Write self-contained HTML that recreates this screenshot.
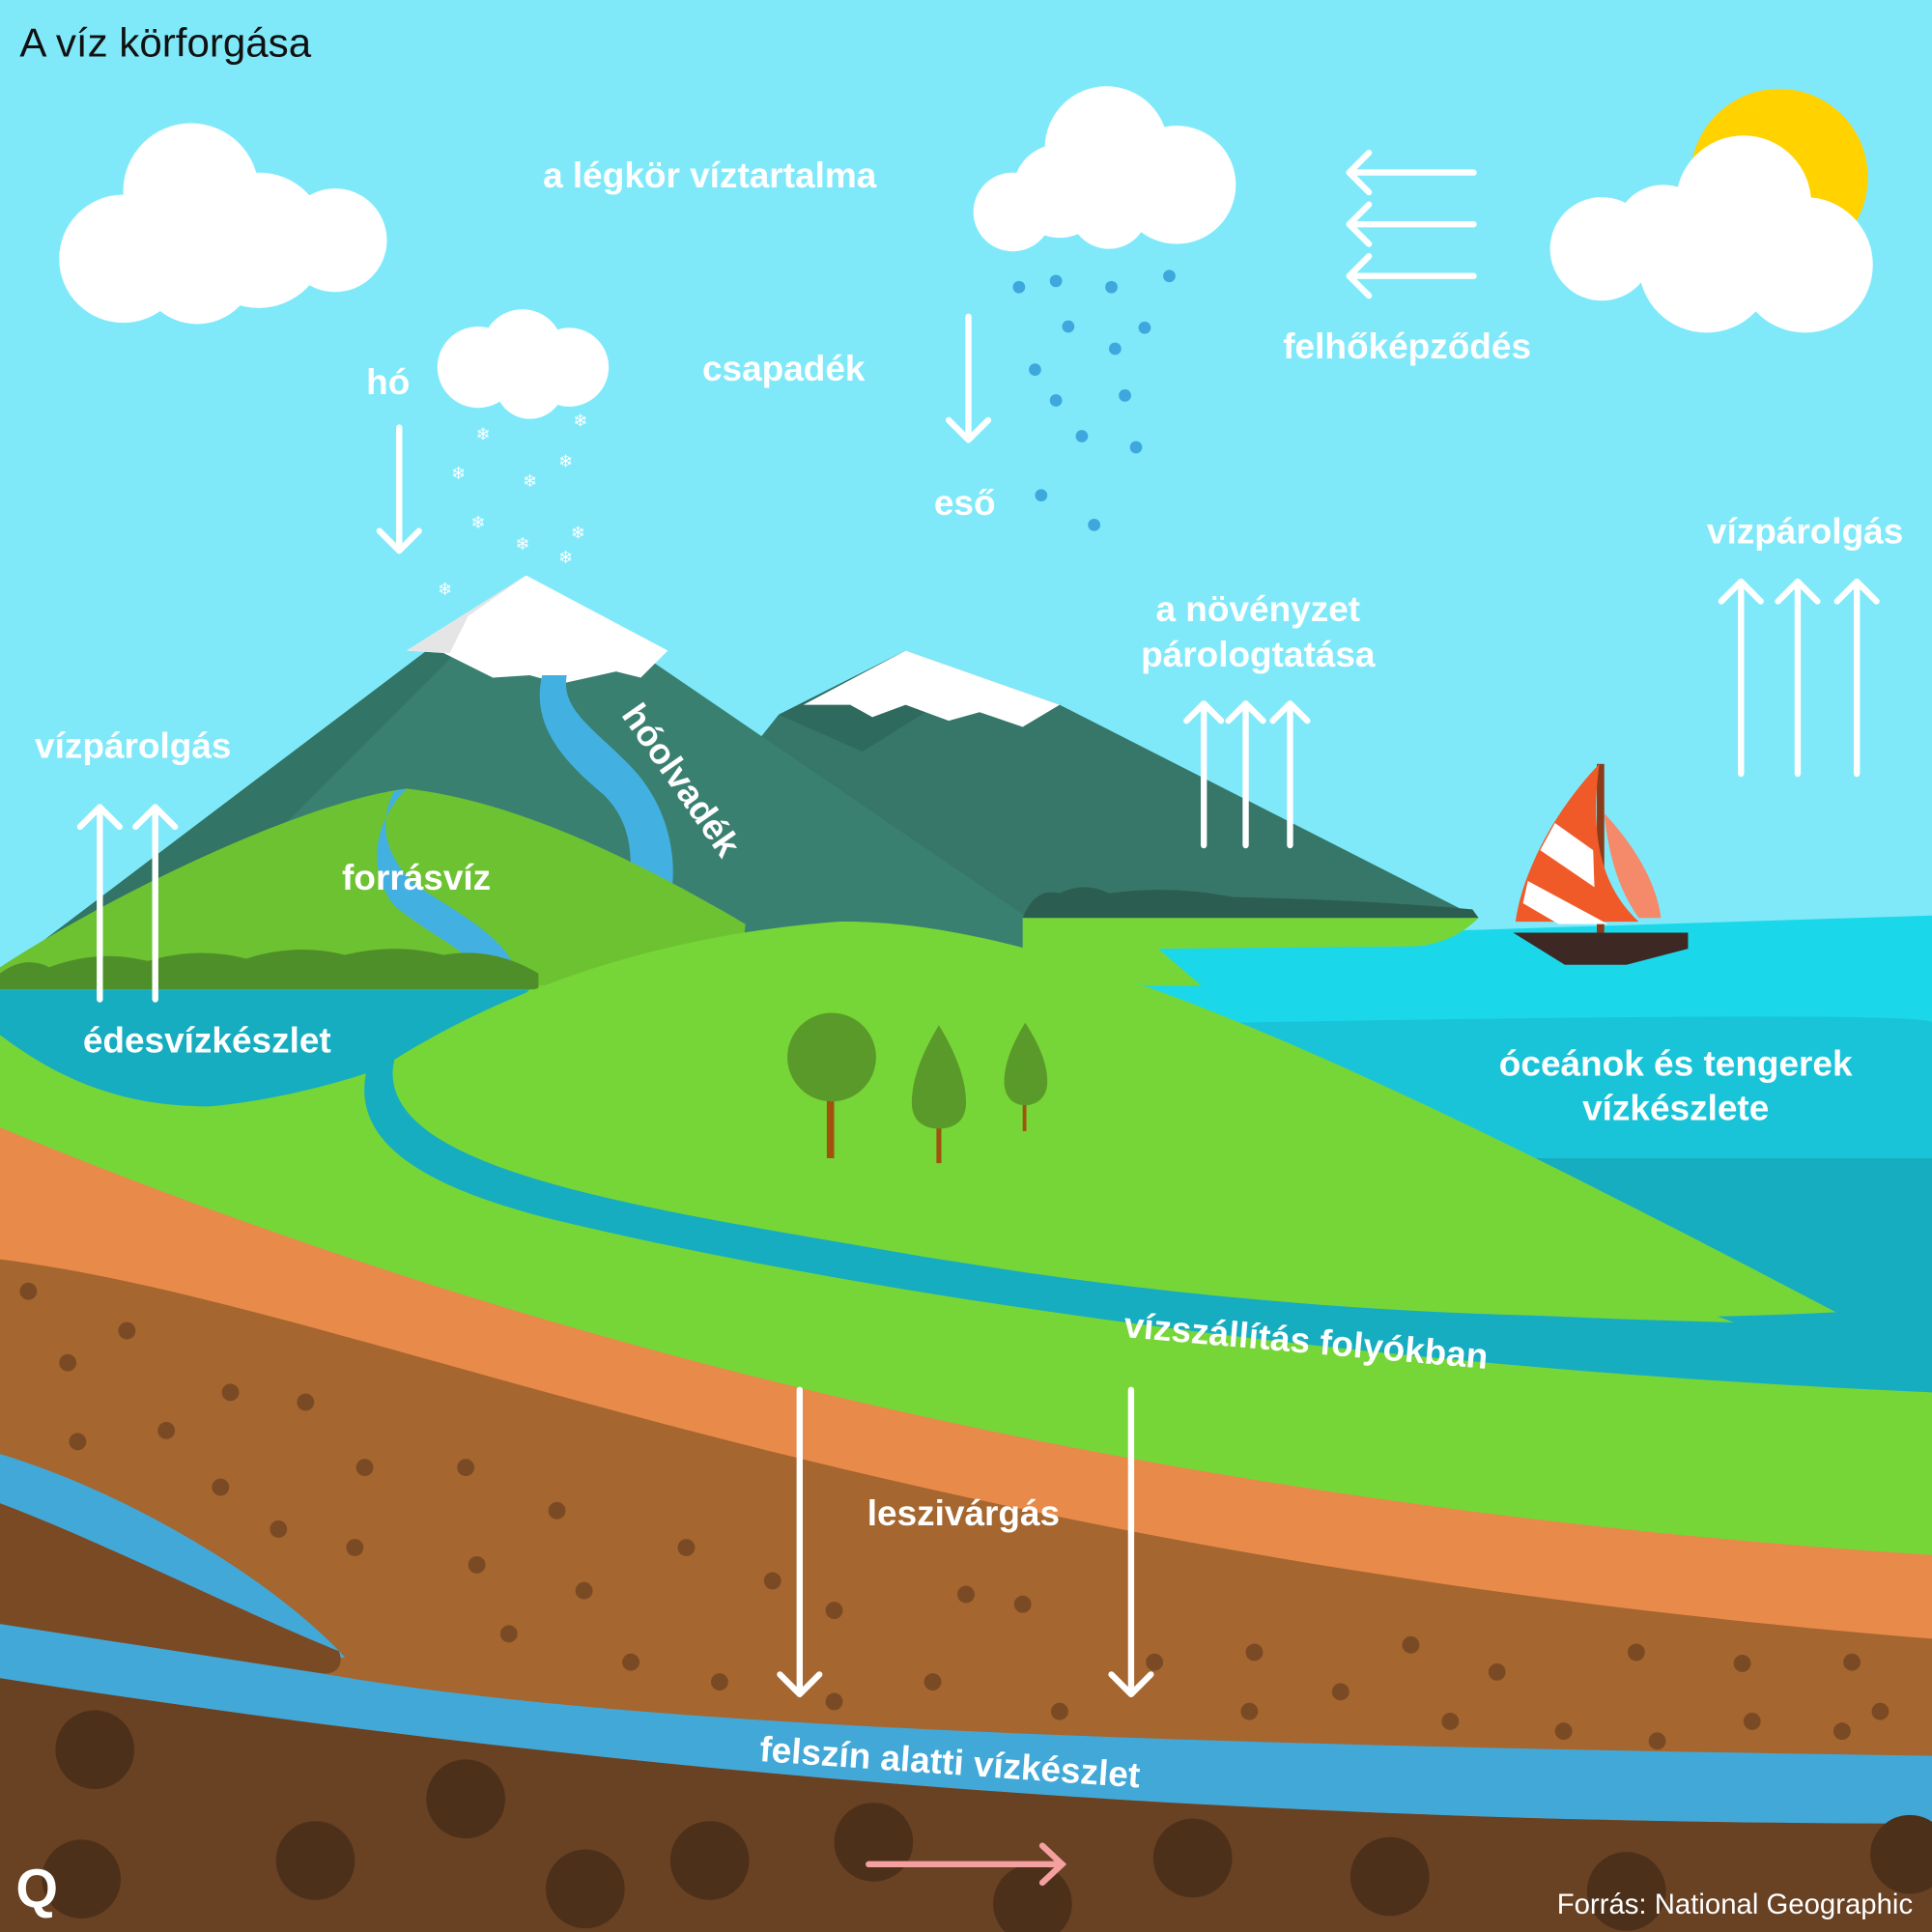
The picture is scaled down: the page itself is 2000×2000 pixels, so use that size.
<!DOCTYPE html>
<html><head><meta charset="utf-8"><style>
html,body{margin:0;padding:0;width:2000px;height:2000px;overflow:hidden;background:#7fe9fa}
svg{display:block}
.l{font-family:"Liberation Sans",sans-serif;font-weight:bold;fill:#fff;font-size:29px;text-anchor:middle}
</style></head><body>
<svg width="2000" height="2000" viewBox="0 0 1568 1568" xmlns="http://www.w3.org/2000/svg">
<rect width="1568" height="1568" fill="#7fe9fa"/>
<circle cx="1444" cy="144" r="72" fill="#ffd200"/>
<g fill="#fff">
<circle cx="100" cy="210" r="52"/><circle cx="155" cy="155" r="55"/><circle cx="210" cy="195" r="55"/><circle cx="272" cy="195" r="42"/><circle cx="160" cy="215" r="48"/>
<circle cx="898" cy="120" r="50"/><circle cx="955" cy="150" r="48"/><circle cx="860" cy="155" r="38"/><circle cx="822" cy="172" r="32"/><circle cx="900" cy="170" r="32"/>
<circle cx="388" cy="298" r="33"/><circle cx="424" cy="284" r="33"/><circle cx="462" cy="298" r="32"/><circle cx="430" cy="312" r="28"/>
<circle cx="1300" cy="202" r="42"/><circle cx="1415" cy="165" r="55"/><circle cx="1465" cy="215" r="55"/><circle cx="1385" cy="215" r="55"/><circle cx="1350" cy="190" r="40"/>
</g>
<g fill="#3ea7dd">
<circle cx="827" cy="233" r="5"/><circle cx="857" cy="228" r="5"/><circle cx="902" cy="233" r="5"/><circle cx="949" cy="224" r="5"/><circle cx="867" cy="265" r="5"/><circle cx="929" cy="266" r="5"/><circle cx="905" cy="283" r="5"/><circle cx="840" cy="300" r="5"/><circle cx="857" cy="325" r="5"/><circle cx="913" cy="321" r="5"/><circle cx="878" cy="354" r="5"/><circle cx="922" cy="363" r="5"/><circle cx="845" cy="402" r="5"/><circle cx="888" cy="426" r="5"/>
</g>
<g fill="#fff" font-size="14" font-family="DejaVu Sans" text-anchor="middle">
<text x="392" y="357">❄</text><text x="471" y="346">❄</text><text x="372" y="389">❄</text><text x="430" y="395">❄</text><text x="459" y="379">❄</text><text x="388" y="429">❄</text><text x="469" y="437">❄</text><text x="424" y="446">❄</text><text x="459" y="457">❄</text><text x="361" y="483">❄</text>
</g>
<path d="M870 765L1568 743L1568 1170L1300 1100L870 800Z" fill="#1ad8ea"/>
<path d="M1000 830Q1568 820 1568 830L1568 1170L1250 1100Z" fill="#1ac4d8"/>
<path d="M1220 940L1568 940L1568 1170L1300 1110Z" fill="#17adc0"/>
<!-- mountains -->
<path d="M600 620L632 580L735 528L860 572L1200 745L700 760Z" fill="#36776a"/>
<path d="M632 580L735 528L780 560L700 610Z" fill="#2e6a5e"/>
<path d="M652 572L735 528L860 572L830 590L795 578L770 585L735 572L708 582L690 572Z" fill="#fff"/>
<path d="M0 790L427 467L900 790Z" fill="#3a8070"/>
<path d="M0 790L427 467L360 540L200 700L100 780Z" fill="#327466"/>
<path d="M330 528L427 467L542 528L520 550L500 545L455 555L430 548L400 550L380 540L360 530Z" fill="#fff"/>
<path d="M330 528L427 467L380 500L365 530Z" fill="#e5e5e5"/>
<path d="M440 548C430 590 460 620 490 645C510 665 515 690 510 725L545 725C550 690 540 650 510 620C480 590 455 575 460 548Z" fill="#42b0e0"/>
<path d="M830 745Q840 720 860 725Q880 715 900 725Q950 718 1000 728Q1100 730 1195 738L1200 745Z" fill="#2b5d50"/>
<path d="M830 745L1200 745Q1180 765 1150 768L940 770L975 800L930 800L830 770Z" fill="#76d637"/>
<!-- lower green base -->
<path d="M0 800L600 800L1200 1000L1568 1130L1568 1568L0 1568Z" fill="#76d637"/>
<path d="M0 785C100 720 250 650 330 640C420 650 520 700 605 750L600 800L0 800Z" fill="#6dc232"/>
<path d="M320 642C305 670 315 700 340 720C370 740 410 760 420 790L395 795C380 770 350 760 320 735C300 710 300 670 330 640Z" fill="#42b0e0"/>
<path d="M0 790Q20 775 40 785Q80 770 120 780Q160 768 200 778Q240 765 280 775Q320 765 360 775Q400 768 437 790L437 803L0 803Z" fill="#4f8f2a"/>
<path d="M0 803L430 803C380 850 260 890 170 898C90 898 40 870 0 840Z" fill="#17adc0"/>
<path d="M0 915C400 1080 900 1220 1568 1262L1568 1568L0 1568Z" fill="#e88a4a"/>
<path d="M0 1022C300 1060 700 1260 1568 1330L1568 1568L0 1568Z" fill="#a5662f"/>
<path d="M0 1180C100 1210 220 1280 280 1345C200 1360 80 1340 0 1320Z" fill="#42a8d8"/>
<path d="M0 1220C80 1250 200 1310 275 1340C280 1352 272 1360 260 1358L0 1320Z" fill="#7a4a25"/>
<path d="M0 1318L260 1358C500 1400 900 1415 1568 1425L1568 1480C1000 1480 500 1440 0 1362Z" fill="#42a8d8"/>
<path d="M0 1362C500 1440 1000 1480 1568 1480L1568 1568L0 1568Z" fill="#694123"/>
<g fill="#4d301a">
<circle cx="77" cy="1420" r="32"/><circle cx="378" cy="1460" r="32"/><circle cx="256" cy="1510" r="32"/><circle cx="66" cy="1525" r="32"/><circle cx="475" cy="1533" r="32"/><circle cx="576" cy="1510" r="32"/><circle cx="709" cy="1495" r="32"/><circle cx="838" cy="1545" r="32"/><circle cx="968" cy="1508" r="32"/><circle cx="1128" cy="1523" r="32"/><circle cx="1320" cy="1535" r="32"/><circle cx="1550" cy="1505" r="32"/>
</g>
<g fill="#7a4a25">
<circle cx="23" cy="1048" r="7"/><circle cx="103" cy="1080" r="7"/><circle cx="55" cy="1106" r="7"/><circle cx="187" cy="1130" r="7"/><circle cx="248" cy="1138" r="7"/><circle cx="135" cy="1161" r="7"/><circle cx="63" cy="1170" r="7"/><circle cx="296" cy="1191" r="7"/><circle cx="378" cy="1191" r="7"/><circle cx="179" cy="1207" r="7"/><circle cx="452" cy="1226" r="7"/><circle cx="226" cy="1241" r="7"/><circle cx="288" cy="1256" r="7"/><circle cx="557" cy="1256" r="7"/><circle cx="387" cy="1270" r="7"/><circle cx="627" cy="1283" r="7"/><circle cx="474" cy="1291" r="7"/><circle cx="784" cy="1294" r="7"/><circle cx="677" cy="1307" r="7"/><circle cx="830" cy="1302" r="7"/><circle cx="413" cy="1326" r="7"/><circle cx="1145" cy="1335" r="7"/><circle cx="1018" cy="1341" r="7"/><circle cx="1328" cy="1341" r="7"/><circle cx="512" cy="1349" r="7"/><circle cx="937" cy="1349" r="7"/><circle cx="1414" cy="1350" r="7"/><circle cx="1503" cy="1349" r="7"/><circle cx="1215" cy="1357" r="7"/><circle cx="584" cy="1365" r="7"/><circle cx="757" cy="1365" r="7"/><circle cx="1088" cy="1373" r="7"/><circle cx="677" cy="1381" r="7"/><circle cx="860" cy="1389" r="7"/><circle cx="1014" cy="1389" r="7"/><circle cx="1526" cy="1389" r="7"/><circle cx="1177" cy="1397" r="7"/><circle cx="1422" cy="1397" r="7"/><circle cx="1269" cy="1405" r="7"/><circle cx="1345" cy="1413" r="7"/><circle cx="1495" cy="1405" r="7"/>
</g>
<path d="M300 860C280 920 330 960 450 990C700 1050 1100 1110 1568 1130L1568 1075C1300 1075 1000 1060 750 1020C520 980 300 950 320 860Z" fill="#17adc0"/>
<path d="M320 860C400 810 520 760 680 748C850 745 1100 860 1490 1065C1200 1080 900 1050 700 1010C450 960 310 930 320 860Z" fill="#76d637"/>
<rect x="671" y="890" width="6" height="50" fill="#a0520f"/><circle cx="675" cy="858" r="36" fill="#5a9a2a"/>
<rect x="760" y="900" width="4" height="44" fill="#a0520f"/><path d="M762 832C745 860 740 880 740 895C740 910 750 916 762 916C774 916 784 910 784 895C784 880 779 860 762 832Z" fill="#5a9a2a"/>
<rect x="830" y="880" width="3" height="38" fill="#a0520f"/><path d="M832 830C820 850 815 865 815 878C815 890 822 897 832 897C842 897 850 890 850 878C850 865 845 850 832 830Z" fill="#5a9a2a"/>
<rect x="1296" y="620" width="6" height="140" fill="#8a3b1a"/>
<path d="M1298 620C1260 660 1235 710 1230 748L1330 748C1300 720 1290 680 1298 620Z" fill="#f05a28"/>
<g fill="#fff"><path d="M1262 668L1293 690L1294 720L1250 690Z"/><path d="M1240 715L1305 750L1265 750L1236 733Z"/></g>
<path d="M1302 660C1330 690 1345 720 1348 745L1330 745C1312 720 1305 690 1302 660Z" fill="#f48a6a"/>
<path d="M1228 757L1370 757L1370 770L1320 783L1270 783Z" fill="#3d2823"/>
<g stroke="#fff" stroke-width="5" fill="none" stroke-linecap="round" stroke-linejoin="round">
<path d="M324 347V447M308 431L324 447L340 431"/>
<path d="M786 257V357M770 341L786 357L802 341"/>
<path d="M1196 140H1095M1111 124L1095 140L1111 156M1196 182H1095M1111 166L1095 182L1111 198M1196 224H1095M1111 208L1095 224L1111 240"/>
<path d="M1413 628V472M1397 488L1413 472L1429 488M1459 628V472M1443 488L1459 472L1475 488M1507 628V472M1491 488L1507 472L1523 488"/>
<path d="M977 686V571M963 585L977 571L991 585M1011 686V571M997 585L1011 571L1025 585M1047 686V571M1033 585L1047 571L1061 585"/>
<path d="M81 811V655M65 671L81 655L97 671M126 811V655M110 671L126 655L142 671"/>
<path d="M649 1128V1375M633 1359L649 1375L665 1359M918 1128V1375M902 1359L918 1375L934 1359"/>
</g>
<text x="16" y="46" font-family="Liberation Sans,sans-serif" font-size="33" fill="#111">A víz körforgása</text>
<text class="l" x="576" y="152">a légkör víztartalma</text>
<text class="l" x="315" y="320">hó</text>
<text class="l" x="636" y="309">csapadék</text>
<text class="l" x="783" y="418">eső</text>
<text class="l" x="1142" y="291">felhőképződés</text>
<text class="l" x="1465" y="441">vízpárolgás</text>
<text class="l" x="1021" y="504">a növényzet</text>
<text class="l" x="1021" y="541">párologtatása</text>
<text class="l" x="108" y="615">vízpárolgás</text>
<text class="l" transform="translate(553,633) rotate(55)" y="10">hóolvadék</text>
<text class="l" x="338" y="722">forrásvíz</text>
<text class="l" x="168" y="854">édesvízkészlet</text>
<text class="l" x="1360" y="873">óceánok és tengerek</text>
<text class="l" x="1360" y="909">vízkészlete</text>
<text class="l" transform="translate(1060,1088) rotate(5)" y="10">vízszállítás folyókban</text>
<text class="l" x="782" y="1238">leszivárgás</text>
<text class="l" transform="translate(771,1430) rotate(4)" y="10">felszín alatti vízkészlet</text>
<path d="M705 1513H862M846 1498L862 1513L846 1528" stroke="#f4a0a0" stroke-width="5" fill="none" stroke-linecap="round"/>
<text x="1408" y="1553" font-family="Liberation Sans,sans-serif" font-size="23" fill="#fff" text-anchor="middle">Forrás: National Geographic</text>
<text x="30" y="1548" font-family="Liberation Sans,sans-serif" font-weight="bold" font-size="44" fill="#fff" text-anchor="middle">Q</text>
</svg>
</body></html>
